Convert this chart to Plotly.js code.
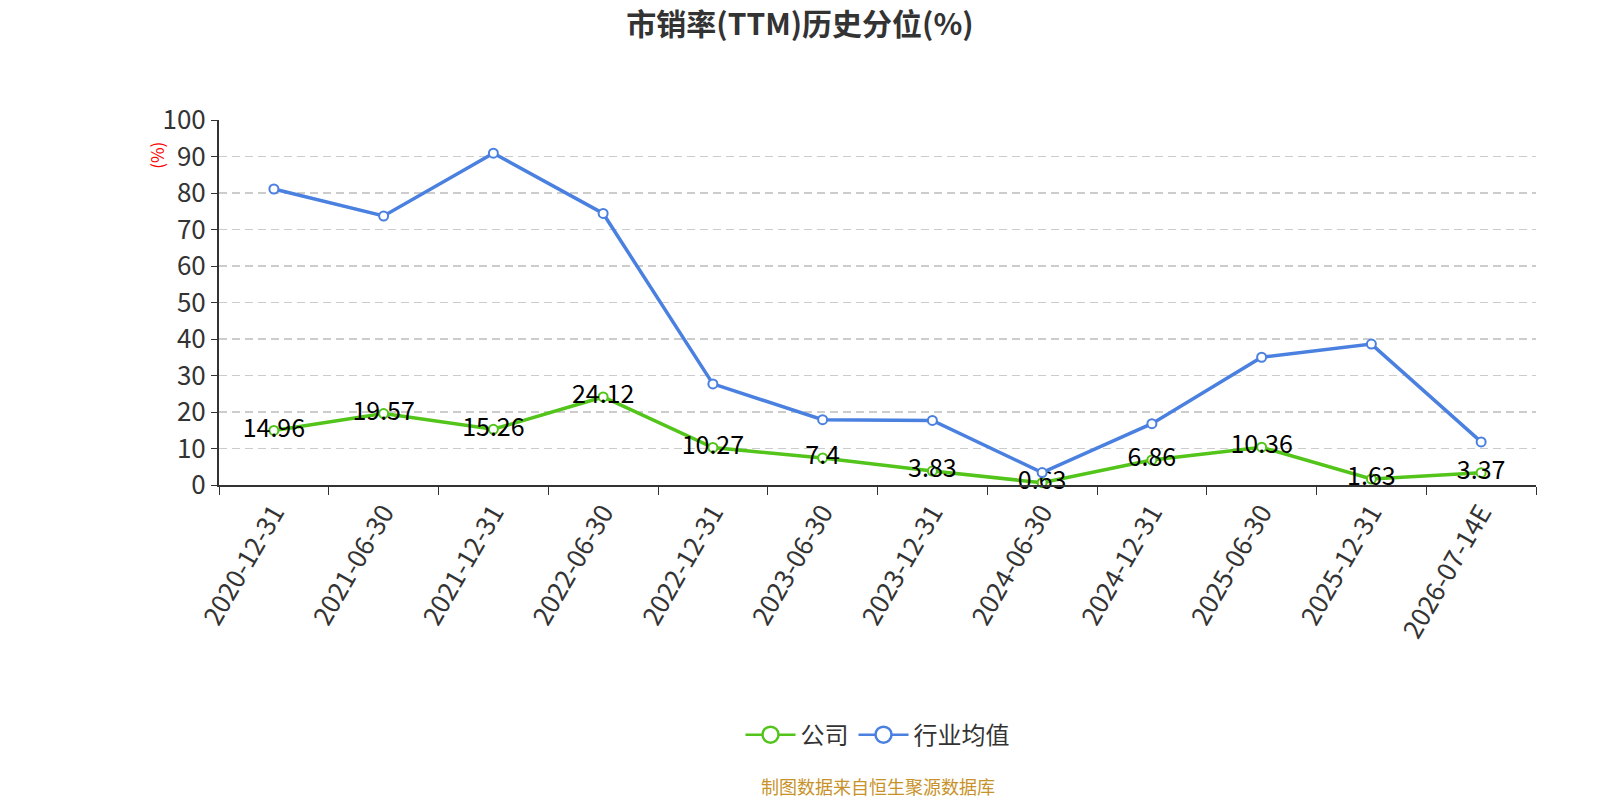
<!DOCTYPE html>
<html>
<head>
<meta charset="utf-8">
<script src="https://cdn.plot.ly/plotly-3.0.1.min.js"></script>
<style>
  html, body { margin: 0; padding: 0; background: #fff; }
  #chart { width: 1600px; height: 800px; }
</style>
</head>
<body>
<div id="chart"></div>
<script>
const dates = ['2020-12-31', '2021-06-30', '2021-12-31', '2022-06-30', '2022-12-31', '2023-06-30',
  '2023-12-31', '2024-06-30', '2024-12-31', '2025-06-30', '2025-12-31', '2026-07-14E']
const company = [14.96, 19.57, 15.26, 24.12, 10.27, 7.4, 3.83, 0.63, 6.86, 10.36, 1.63, 3.37]
const industry = [81.1, 73.7, 90.9, 74.4, 27.7, 17.9, 17.7, 3.4, 16.8, 35.0, 38.6, 11.8]

const font = '"Microsoft YaHei", "Noto Sans CJK SC", sans-serif'
const green = '#52c41a'
const blue = '#4a80e0'

function series (name, ys, color, labels) {
  return {
    x: dates,
    y: ys,
    name: name,
    type: 'scatter',
    mode: labels ? 'lines+markers+text' : 'lines+markers',
    text: labels ? ys.map(v => String(v)) : undefined,
    textposition: 'middle center',
    textfont: { family: font, size: 25, color: '#000' },
    line: { color: color, width: 3.5 },
    marker: { symbol: 'circle', size: 9, color: '#fff', line: { color: color, width: 2 } },
    cliponaxis: false,
    showlegend: false
  }
}

// legend-only entries, so the legend circles can be bigger than the point markers
function legendEntry (name, color) {
  return {
    x: [dates[0]],
    y: [null],
    name: name,
    type: 'scatter',
    mode: 'lines+markers',
    line: { color: color, width: 2.5 },
    marker: { symbol: 'circle', size: 18, color: '#fff', line: { color: color, width: 2.5 } }
  }
}

const data = [
  series('公司', company, green, true),
  series('行业均值', industry, blue, false),
  legendEntry('公司', green),
  legendEntry('行业均值', blue)
]

const layout = {
  width: 1600,
  height: 800,
  margin: { l: 219, r: 64, t: 120, b: 315 },
  paper_bgcolor: '#fff',
  plot_bgcolor: '#fff',
  font: { family: font, color: '#333' },
  title: {
    text: '<b>市销率(TTM)历史分位(%)</b>',
    font: { family: font, size: 30, color: '#333' },
    x: 0.5,
    xanchor: 'center',
    y: 0.97,
    yanchor: 'middle'
  },
  showlegend: true,
  legend: {
    orientation: 'h',
    x: 0.5,
    xanchor: 'center',
    y: -0.685,
    yanchor: 'middle',
    itemwidth: 50,
    font: { family: font, size: 24, color: '#333' }
  },
  xaxis: {
    type: 'category',
    tickson: 'boundaries',
    ticks: 'outside',
    ticklen: 8,
    tickcolor: '#333',
    showline: true,
    linecolor: '#333',
    linewidth: 2,
    showgrid: false,
    tickangle: -60,
    tickfont: { family: font, size: 26, color: '#333' },
    range: [-0.5, 11.5]
  },
  yaxis: {
    range: [0, 100],
    dtick: 10,
    ticks: 'outside',
    ticklen: 6,
    tickcolor: '#333',
    showline: true,
    linecolor: '#333',
    linewidth: 2,
    showgrid: true,
    gridcolor: '#ccc',
    griddash: '8px,5px',
    gridwidth: 1.5,
    zeroline: false,
    tickfont: { family: font, size: 26, color: '#333' }
  },
  annotations: [
    {
      text: '(%)',
      xref: 'paper',
      yref: 'paper',
      x: -0.048,
      y: 0.904,
      xanchor: 'center',
      yanchor: 'middle',
      textangle: -90,
      showarrow: false,
      font: { family: font, size: 17, color: '#f00' }
    },
    {
      text: '制图数据来自恒生聚源数据库',
      xref: 'paper',
      yref: 'paper',
      x: 0.5,
      y: -0.826,
      xanchor: 'center',
      yanchor: 'middle',
      showarrow: false,
      font: { family: font, size: 18, color: '#c8922a' }
    }
  ]
}

Plotly.newPlot('chart', data, layout, { displayModeBar: false, staticPlot: true })
</script>
</body>
</html>
